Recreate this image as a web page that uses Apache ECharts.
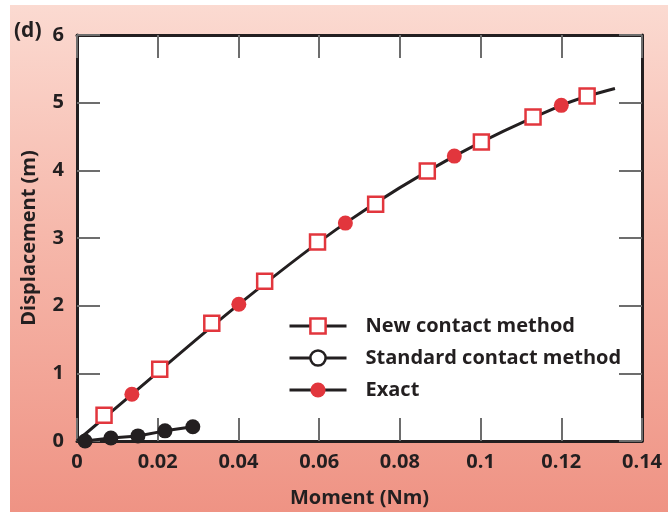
<!DOCTYPE html>
<html>
<head>
<meta charset="utf-8">
<script src="https://cdn.jsdelivr.net/npm/echarts@6/dist/echarts.min.js"></script>
<style>
  html, body { margin: 0; padding: 0; background: #fff; }
  #panel {
    position: absolute; left: 10px; top: 5px; width: 658px; height: 507px;
    background: linear-gradient(to bottom, #fbdad1 0%, #f6b8ab 45%, #ef9384 100%);
  }
  #chart { position: absolute; left: 0; top: 0; width: 668px; height: 512px; }
</style>
</head>
<body>
<div id="panel"></div>
<div id="chart"></div>
<script>
// Moment (Nm) vs displacement (m) for the three contact formulations
const newContactX = [0.0067, 0.0205, 0.0334, 0.0465, 0.0596, 0.0740, 0.0868, 0.1002, 0.1130, 0.1264];
const newContactY = [0.38, 1.06, 1.74, 2.36, 2.94, 3.50, 3.99, 4.42, 4.79, 5.10];

const standardX = [0.0020, 0.0084, 0.0151, 0.0218, 0.0287];
const standardY = [0.00, 0.045, 0.075, 0.15, 0.21];

const exactX = [0.0136, 0.0401, 0.0665, 0.0935, 0.1200];
const exactY = [0.69, 2.02, 3.22, 4.21, 4.96];

// Reference solution curve
const curveX = [0, 0.0136, 0.0401, 0.0665, 0.0935, 0.1200, 0.1333];
const curveY = [0, 0.69, 2.02, 3.22, 4.21, 4.96, 5.21];

const xTicks = [0, 0.02, 0.04, 0.06, 0.08, 0.1, 0.12, 0.14];
const yTicks = [0, 1, 2, 3, 4, 5, 6];

const pair = (xs, ys) => xs.map((x, i) => [x, ys[i]]);

const FONT = '"Open Sans", "DejaVu Sans", sans-serif';
const INK = '#231f20';
const RED = '#e2363d';
const FS = 20;

const tickStyle = { show: true, inside: true, length: 23, lineStyle: { color: '#6d6d6d', width: 2 } };
const lineAxis = { show: true, onZero: false, lineStyle: { color: INK, width: 3 } };
const labelStyle = { fontFamily: FONT, fontWeight: 'bold', fontSize: FS, color: INK };

const chart = echarts.init(document.getElementById('chart'), null, { renderer: 'canvas' });

chart.setOption({
  backgroundColor: 'transparent',
  animation: false,
  grid: {
    left: 77, right: 26, top: 35, bottom: 71, outerBoundsMode: 'none', containLabel: false,
    show: true, backgroundColor: '#fff', borderWidth: 0
  },
  xAxis: [
    {
      type: 'value', min: 0, max: 0.14, interval: 0.02, position: 'bottom',
      axisLine: lineAxis, axisTick: tickStyle, splitLine: { show: false },
      axisLabel: Object.assign({ margin: 11, formatter: v => xTicks.includes(+v.toFixed(2)) ? String(+v.toFixed(2)) : '' }, labelStyle),
      name: 'Moment (Nm)', nameLocation: 'middle', nameGap: 47,
      nameTextStyle: { fontFamily: FONT, fontWeight: 'bold', fontSize: FS, color: INK }
    },
    {
      type: 'value', min: 0, max: 0.14, interval: 0.02, position: 'top',
      axisLine: lineAxis, axisTick: tickStyle, axisLabel: { show: false }, splitLine: { show: false }
    }
  ],
  yAxis: [
    {
      type: 'value', min: 0, max: 6, interval: 1, position: 'left',
      axisLine: lineAxis, axisTick: tickStyle, splitLine: { show: false },
      axisLabel: Object.assign({ margin: 13, formatter: v => yTicks.includes(v) ? String(v) : '' }, labelStyle),
      name: 'Displacement (m)', nameLocation: 'middle', nameGap: 38, nameRotate: 90,
      nameTextStyle: { fontFamily: FONT, fontWeight: 'bold', fontSize: FS, color: INK }
    },
    {
      type: 'value', min: 0, max: 6, interval: 1, position: 'right',
      axisLine: lineAxis, axisTick: tickStyle, axisLabel: { show: false }, splitLine: { show: false }
    }
  ],
  legend: {
    orient: 'vertical', left: 283, top: 311, itemWidth: 57, itemHeight: 19, itemGap: 12,
    textStyle: { fontFamily: FONT, fontWeight: 'bold', fontSize: FS, color: INK, padding: [0, 0, 0, 14] },
    data: [
      { name: 'New contact method', lineStyle: { color: INK, width: 3, opacity: 1 },
        itemStyle: { color: '#fff', borderColor: RED, borderWidth: 2.5 } },
      { name: 'Standard contact method', lineStyle: { color: INK, width: 3, opacity: 1 },
        itemStyle: { color: '#fff', borderColor: INK, borderWidth: 2.5 } },
      { name: 'Exact', lineStyle: { color: INK, width: 3, opacity: 1 },
        itemStyle: { color: RED } }
    ]
  },
  series: [
    {
      name: 'curve', type: 'line', data: pair(curveX, curveY), smooth: 0.35,
      showSymbol: false, symbol: 'none', lineStyle: { color: INK, width: 3 }, z: 2, silent: true
    },
    {
      name: 'Standard contact method', type: 'line', data: pair(standardX, standardY),
      symbol: 'circle', symbolSize: 15, lineStyle: { color: INK, width: 3 },
      itemStyle: { color: INK }, z: 3
    },
    {
      name: 'New contact method', type: 'line', data: pair(newContactX, newContactY),
      symbol: 'rect', symbolSize: 15, lineStyle: { color: INK, width: 3, opacity: 0 },
      itemStyle: { color: '#fff', borderColor: RED, borderWidth: 2.5 }, z: 4
    },
    {
      name: 'Exact', type: 'line', data: pair(exactX, exactY),
      symbol: 'circle', symbolSize: 15, lineStyle: { color: INK, width: 3, opacity: 0 },
      itemStyle: { color: RED }, z: 4
    }
  ],
  graphic: [
    { type: 'text', left: 14, top: 21, style: { text: '(d)', fontFamily: FONT, fontWeight: 'bold', fontSize: 21, fill: INK } }
  ]
});
</script>
</body>
</html>
